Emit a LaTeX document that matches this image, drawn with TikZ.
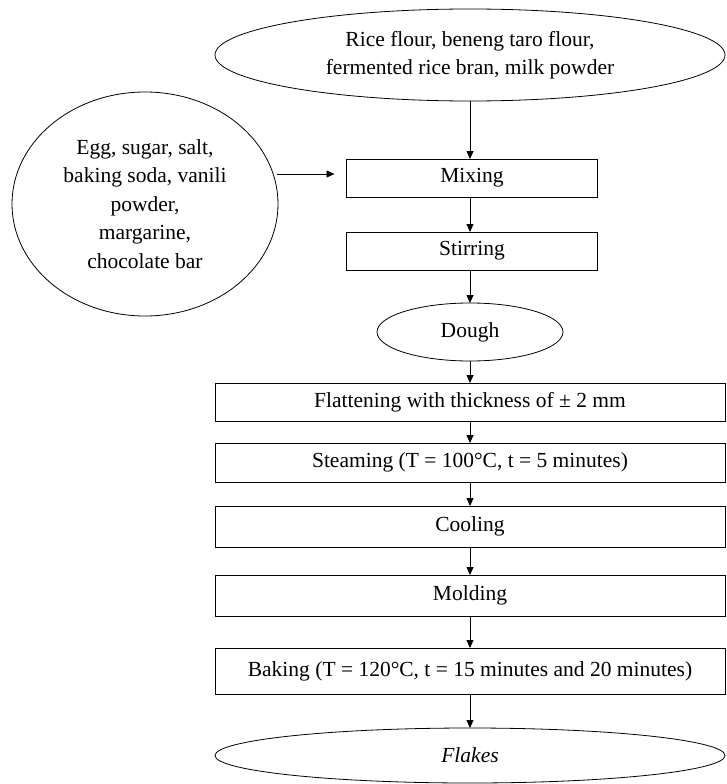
\documentclass[tikz,border=0pt]{standalone}
\usepackage{fontspec}
\setmainfont{Liberation Serif}
\usetikzlibrary{shapes.geometric,arrows.meta}
\begin{document}
\begin{tikzpicture}[x=1pt,y=-1pt,
  font=\fontsize{21.5}{28.5}\selectfont,
  every node/.style={inner sep=0pt, outer sep=0pt},
  proc/.style={draw, line width=0.8pt, rectangle, align=center},
  ell/.style={draw, line width=0.8pt, ellipse, align=center},
  arr/.style={line width=0.8pt, -{Triangle[length=8pt,width=7pt]}}]
\useasboundingbox (0,0) rectangle (726,784);
\node[ell, minimum width=510pt, minimum height=92pt] (raw) at (470,55)
  {Rice flour, beneng taro flour,\\fermented rice bran, milk powder};
\node[ell, minimum width=266pt, minimum height=224pt,
  label={[align=center, font=\fontsize{21.5}{28.5}\selectfont]center:Egg, sugar, salt,\\baking soda, vanili\\powder,\\margarine,\\chocolate bar}] (add) at (145,204) {};
\node[proc, minimum width=251pt, minimum height=38pt] (mix) at (472,178) {Mixing};
\node[proc, minimum width=251pt, minimum height=38pt] (stir) at (472,251) {Stirring};
\node[ell, minimum width=186pt, minimum height=58pt] (dough) at (470,332) {Dough};
\node[proc, minimum width=510pt, minimum height=38pt] (flat) at (470,402) {Flattening with thickness of ± 2 mm};
\node[proc, minimum width=510pt, minimum height=39pt] (steam) at (470,462.5) {Steaming (T = 100°C, t = 5 minutes)};
\node[proc, minimum width=510pt, minimum height=41pt] (cool) at (470,526.5) {Cooling};
\node[proc, minimum width=510pt, minimum height=41pt] (mold) at (470,595.5) {Molding};
\node[proc, minimum width=510pt, minimum height=46pt] (bake) at (470,671) {Baking (T = 120°C, t = 15 minutes and 20 minutes)};
\node[ell, minimum width=510pt, minimum height=55pt] (flakes) at (470,755.5) {\itshape Flakes};
\coordinate (a1) at (277,174);
\draw[arr] (raw) -- (raw |- mix.north);
\draw[arr, shorten >=12pt] (a1) -- (mix.west |- a1);
\draw[arr] (mix.south -| raw) -- (stir.north -| raw);
\draw[arr] (stir.south -| raw) -- (dough);
\draw[arr] (dough) -- (flat);
\draw[arr] (flat) -- (steam);
\draw[arr] (steam) -- (cool);
\draw[arr] (cool) -- (mold);
\draw[arr] (mold) -- (bake);
\draw[arr] (bake) -- (flakes);
\end{tikzpicture}
\end{document}
